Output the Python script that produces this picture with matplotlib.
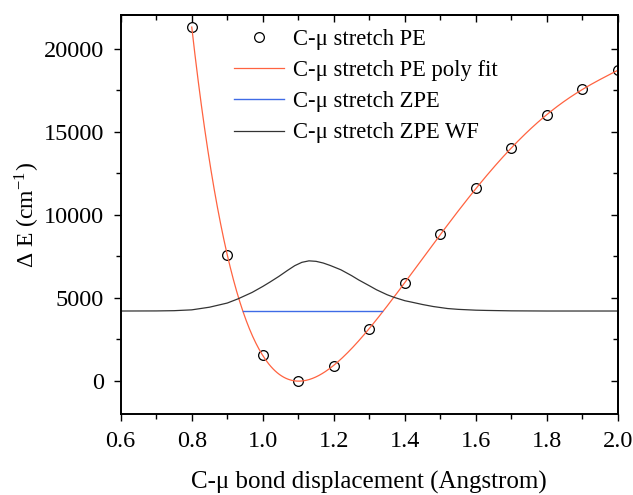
import numpy as np
import matplotlib
matplotlib.use('Agg')
import matplotlib.pyplot as plt
from matplotlib.ticker import MultipleLocator, FormatStrFormatter

plt.rcParams['font.family'] = ['Liberation Serif', 'DejaVu Serif']
plt.rcParams['mathtext.fontset'] = 'stix'

# potential energy points along the C-mu stretch
disp = [0.8, 0.9, 1.0, 1.1, 1.2, 1.3, 1.4, 1.5, 1.6, 1.7, 1.8, 1.9, 2.0]
pe = [21300, 7550, 1540, 0, 920, 3130, 5900, 8850, 11580, 13990, 16020, 17560, 18690]

# zero point energy level and its classical turning points
zpe = 4200
zpe_x = [0.943, 1.335]

# wavefunction drawn on top of the ZPE level
wf_x = [0.60, 0.70, 0.75, 0.80, 0.85, 0.90, 0.93, 0.97, 1.00, 1.02, 1.045, 1.07,
        1.09, 1.11, 1.13, 1.15, 1.17, 1.19, 1.22, 1.25, 1.27, 1.30, 1.32, 1.35,
        1.37, 1.40, 1.42, 1.45, 1.48, 1.52, 1.55, 1.60, 1.63, 1.70, 1.80, 2.00]
wf_y = [4200, 4205, 4220, 4270, 4430, 4680, 4930, 5320, 5680, 5940, 6280, 6650,
        6930, 7130, 7220, 7190, 7090, 6940, 6680, 6330, 6070, 5720, 5480, 5180,
        5020, 4820, 4730, 4590, 4470, 4350, 4300, 4250, 4235, 4210, 4200, 4200]

fig = plt.figure(figsize=(6.33, 4.95), dpi=100)
ax = fig.add_axes([0.1907, 0.1636, 0.7856, 0.8055])

# polynomial fit through the PE points
coef = np.polyfit(disp, pe, 6)
xf = np.linspace(0.8, 2.0, 400)
yf = np.polyval(coef, xf)

ax.plot(disp, pe, 'o', mfc='none', mec='black', ms=7, mew=0.9, label='C-μ stretch PE')
ax.plot(xf, yf, color='#FF6340', lw=0.9, label='C-μ stretch PE poly fit')
ax.plot(zpe_x, [zpe, zpe], color='#3F6BE6', lw=1.0, label='C-μ stretch ZPE')
ax.plot(wf_x, wf_y, color='#333333', lw=0.9, label='C-μ stretch ZPE WF')

ax.set_xlim(0.6, 2.0)
ax.set_ylim(-2000, 22000)
ax.xaxis.set_major_locator(MultipleLocator(0.2))
ax.xaxis.set_minor_locator(MultipleLocator(0.1))
ax.yaxis.set_major_locator(MultipleLocator(5000))
ax.yaxis.set_minor_locator(MultipleLocator(2500))
ax.xaxis.set_major_formatter(FormatStrFormatter('%.1f'))

for s in ax.spines.values():
    s.set_linewidth(1.4)
ax.tick_params(which='major', direction='out', length=5, width=1.0, labelsize=17.5)
ax.tick_params(which='minor', direction='out', length=3.5, width=1.0)
ax.tick_params(axis='x', pad=7)
ax.tick_params(axis='y', pad=7)

# mirrored ticks on top and right, pointing inwards
top = ax.secondary_xaxis('top')
top.xaxis.set_major_locator(MultipleLocator(0.2))
top.xaxis.set_minor_locator(MultipleLocator(0.1))
top.tick_params(which='major', direction='in', length=5, width=1.0, labeltop=False)
top.tick_params(which='minor', direction='in', length=3.5, width=1.0)
right = ax.secondary_yaxis('right')
right.yaxis.set_major_locator(MultipleLocator(5000))
right.yaxis.set_minor_locator(MultipleLocator(2500))
right.tick_params(which='major', direction='in', length=5, width=1.0, labelright=False)
right.tick_params(which='minor', direction='in', length=3.5, width=1.0)
for sa in (top, right):
    for s in sa.spines.values():
        s.set_linewidth(1.4)

ax.set_xlabel('C-μ bond displacement (Angstrom)', fontsize=18, labelpad=14)
ax.set_ylabel(r'Δ E (cm$^{\mathregular{-1}}$)', fontsize=17, labelpad=1)

ax.legend(loc='upper left', bbox_to_anchor=(0.2, 1.0), frameon=False, fontsize=16.3,
          handlelength=2.2, handletextpad=0.4, labelspacing=0.45, borderaxespad=0.2)

fig.savefig('out.png', dpi=100, facecolor='white')
